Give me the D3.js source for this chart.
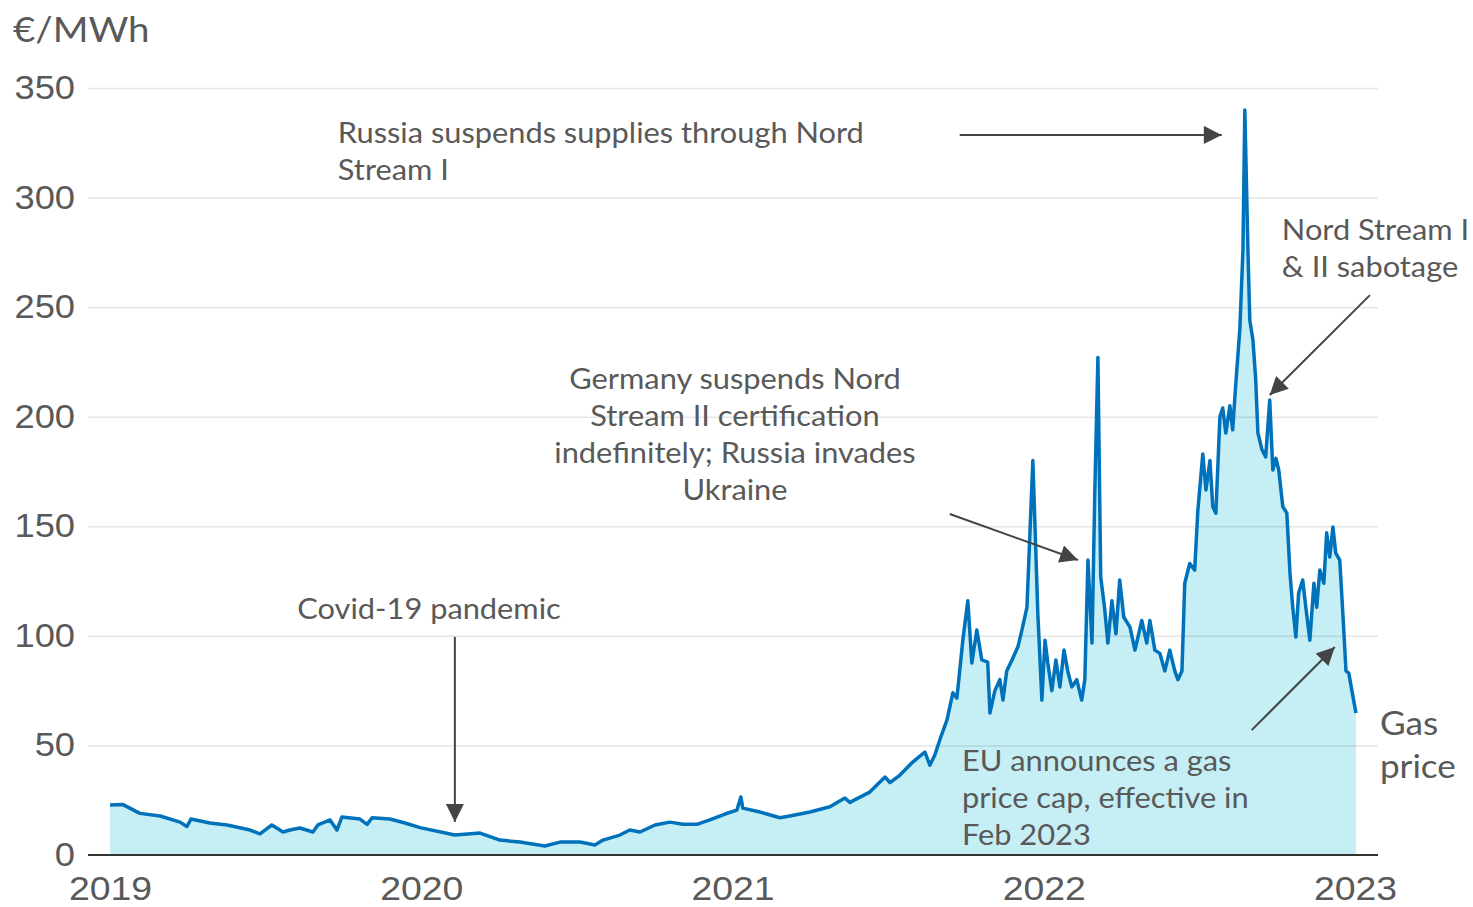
<!DOCTYPE html>
<html>
<head>
<meta charset="utf-8">
<script src="https://cdn.jsdelivr.net/npm/d3@7"></script>
<style>
    body { margin: 0; background: #fff; }
    svg { display: block; font-family: Lato, "Open Sans", sans-serif; }
    .tick text { fill: #595959; }
    .note { fill: #595959; font-size: 28px; }
</style>
</head>
<body>
<script>
// gas price (decimal year, €/MWh)
const years = [
    2019.000, 2019.042, 2019.096, 2019.161, 2019.225, 2019.247, 2019.260, 2019.321, 2019.376, 2019.450,
    2019.482, 2019.520, 2019.556, 2019.578, 2019.610, 2019.652, 2019.668, 2019.707, 2019.729, 2019.745,
    2019.803, 2019.826, 2019.842, 2019.899, 2019.948, 2019.996, 2020.108, 2020.189, 2020.253, 2020.317,
    2020.397, 2020.446, 2020.510, 2020.558, 2020.584, 2020.638, 2020.670, 2020.703, 2020.751, 2020.799,
    2020.841, 2020.886, 2020.927, 2020.976, 2021.014, 2021.027, 2021.033, 2021.088, 2021.152, 2021.184,
    2021.249, 2021.313, 2021.361, 2021.377, 2021.441, 2021.490, 2021.506, 2021.538, 2021.576, 2021.618,
    2021.634, 2021.650, 2021.666, 2021.689, 2021.708, 2021.721, 2021.740, 2021.756, 2021.769, 2021.785,
    2021.801, 2021.820, 2021.827, 2021.843, 2021.859, 2021.869, 2021.881, 2021.898, 2021.917, 2021.930,
    2021.946, 2021.965, 2021.981, 2021.994, 2022.004, 2022.013, 2022.026, 2022.039, 2022.052, 2022.065,
    2022.077, 2022.090, 2022.106, 2022.122, 2022.132, 2022.142, 2022.155, 2022.164, 2022.174, 2022.183,
    2022.196, 2022.206, 2022.219, 2022.232, 2022.244, 2022.257, 2022.277, 2022.293, 2022.315, 2022.331,
    2022.341, 2022.357, 2022.373, 2022.389, 2022.405, 2022.421, 2022.431, 2022.444, 2022.453, 2022.469,
    2022.485, 2022.495, 2022.511, 2022.521, 2022.534, 2022.543, 2022.553, 2022.566, 2022.575, 2022.585,
    2022.598, 2022.607, 2022.617, 2022.630, 2022.640, 2022.646, 2022.656, 2022.662, 2022.672, 2022.681,
    2022.688, 2022.701, 2022.713, 2022.726, 2022.736, 2022.746, 2022.755, 2022.768, 2022.781, 2022.791,
    2022.800, 2022.810, 2022.819, 2022.832, 2022.842, 2022.855, 2022.868, 2022.877, 2022.887, 2022.900,
    2022.909, 2022.919, 2022.929, 2022.938, 2022.951, 2022.961, 2022.971, 2022.980, 2022.990, 2023.003
];
const prices = [
    22.8, 23.0, 19.0, 17.8, 15.0, 13.0, 16.4, 14.6, 13.7, 11.4,
    9.6, 13.7, 10.5, 11.4, 12.3, 10.5, 13.7, 16.0, 11.4, 17.3,
    16.4, 14.0, 17.0, 16.4, 14.6, 12.5, 9.1, 10.0, 6.8, 5.9,
    4.1, 5.9, 5.9, 4.6, 6.8, 9.1, 11.4, 10.5, 13.7, 15.0,
    14.0, 14.0, 16.0, 18.7, 20.5, 26.5, 21.4, 19.6, 17.0, 17.8,
    19.6, 22.0, 26.0, 24.0, 28.7, 35.6, 33.0, 36.5, 42.0, 47.0,
    41.0, 45.6, 52.5, 61.6, 74.0, 71.6, 98.0, 116.0, 87.6, 102.7,
    89.0, 88.0, 64.8, 75.0, 80.0, 70.7, 84.0, 89.0, 95.0, 102.7,
    113.0, 180.0, 110.0, 70.7, 98.0, 87.6, 75.0, 89.0, 76.7, 93.5,
    84.0, 76.7, 80.0, 70.7, 80.0, 134.6, 96.7, 165.0, 227.0, 127.0,
    112.0, 96.7, 116.0, 101.0, 125.5, 108.6, 104.0, 93.5, 107.0, 96.7,
    107.0, 93.5, 92.0, 84.0, 93.5, 84.0, 80.0, 84.0, 124.0, 133.0,
    130.0, 157.0, 183.0, 166.6, 180.0, 159.0, 156.0, 200.0, 204.0, 192.6,
    205.0, 194.0, 215.0, 240.0, 276.0, 340.0, 276.0, 244.0, 235.0, 217.0,
    192.6, 185.0, 181.6, 207.6, 175.7, 181.0, 175.7, 159.0, 156.0, 128.7,
    113.0, 99.5, 119.6, 125.5, 113.0, 98.0, 124.0, 113.0, 130.0, 124.0,
    147.0, 136.0, 149.7, 137.8, 134.6, 110.0, 84.0, 83.0, 75.0, 64.8
];
const yTicks = [0, 50, 100, 150, 200, 250, 300, 350];
const xTicks = [2019, 2020, 2021, 2022, 2023];

// annotations, placed in data units
const notes = [
    { lines: ["Russia suspends supplies through Nord", "Stream I"], x: 2019.732, y: 329.5, anchor: "start" },
    { lines: ["Nord Stream I", "& II sabotage"], x: 2022.765, y: 285.2, anchor: "start" },
    { lines: ["Germany suspends Nord", "Stream II certification", "indefinitely; Russia invades", "Ukraine"], x: 2021.008, y: 217.2, anchor: "middle" },
    { lines: ["Covid-19 pandemic"], x: 2020.025, y: 112.3, anchor: "middle" },
    { lines: ["EU announces a gas", "price cap, effective in", "Feb 2023"], x: 2021.737, y: 42.9, anchor: "start" }
];
const arrows = [
    { from: [2021.730, 328.6], to: [2022.572, 328.6] },
    { from: [2023.048, 255.5], to: [2022.726, 209.9] },
    { from: [2021.698, 155.6], to: [2022.110, 134.6] },
    { from: [2020.108, 99.5], to: [2020.108, 15.1] },
    { from: [2022.668, 57.0], to: [2022.935, 94.9] }
];

const width = 1473;
const height = 907;
const left = 88;
const right = 1378;
const stretch = 1.1; // lettering in the original is a little wide

const data = years.map((yr, i) => ({ year: yr, price: prices[i] }));

const x = d3.scaleLinear().domain([2019, 2023]).range([110, 1355]);
const y = d3.scaleLinear().domain([0, 350]).range([855, 88]);

const svg = d3.select("body")
    .append("svg")
    .attr("width", width)
    .attr("height", height);

svg.append("defs")
    .append("marker")
    .attr("id", "head")
    .attr("viewBox", "0 0 10 10")
    .attr("refX", 10)
    .attr("refY", 5)
    .attr("markerUnits", "userSpaceOnUse")
    .attr("markerWidth", 24)
    .attr("markerHeight", 18)
    .attr("orient", "auto")
    .append("path")
    .attr("d", "M0,0 L10,5 L0,10 Z")
    .attr("fill", "#444");

// area under the line
svg.append("path")
    .datum(data)
    .attr("fill", "#c6eff5")
    .attr("d", d3.area()
        .x(d => x(d.year))
        .y0(y(0))
        .y1(d => y(d.price)));

// y grid + labels
const yAxis = svg.append("g")
    .attr("transform", `translate(${left},0)`)
    .call(d3.axisLeft(y).tickValues(yTicks).tickSize(-(right - left)).tickPadding(13));
yAxis.select(".domain").remove();
yAxis.selectAll(".tick line")
    .attr("stroke", "rgba(0,0,0,0.1)")
    .attr("stroke-width", 1.5)
    .filter(d => d === 0).remove();
yAxis.selectAll(".tick text")
    .attr("font-family", null)
    .attr("font-size", 33)
    .attr("x", -13 / stretch)
    .attr("transform", `scale(${stretch},1)`);

// x axis
const xAxis = svg.append("g")
    .attr("transform", `translate(0,${y(0)})`)
    .call(d3.axisBottom(x).tickValues(xTicks).tickFormat(d3.format("d")).tickSize(0).tickPadding(21));
xAxis.select(".domain").remove();
xAxis.selectAll(".tick text")
    .attr("font-family", null)
    .attr("font-size", 34)
    .attr("transform", `scale(${stretch},1)`);

svg.append("line")
    .attr("x1", left)
    .attr("x2", right)
    .attr("y1", y(0))
    .attr("y2", y(0))
    .attr("stroke", "#333")
    .attr("stroke-width", 2);

// price line
svg.append("path")
    .datum(data)
    .attr("fill", "none")
    .attr("stroke", "#0072bb")
    .attr("stroke-width", 3.5)
    .attr("stroke-linejoin", "round")
    .attr("d", d3.line()
        .x(d => x(d.year))
        .y(d => y(d.price)));

// unit label
svg.append("text")
    .attr("transform", `translate(13,42) scale(${stretch},1)`)
    .attr("fill", "#595959")
    .attr("font-size", 35)
    .text("€/MWh");

// annotations
notes.forEach(n => {
    const t = svg.append("text")
        .attr("class", "note")
        .attr("text-anchor", n.anchor)
        .attr("transform", `translate(${x(n.x)},${y(n.y)}) scale(${stretch},1)`);
    n.lines.forEach((l, i) => {
        t.append("tspan")
            .attr("x", 0)
            .attr("dy", i === 0 ? "0.35em" : 37)
            .text(l);
    });
});

svg.selectAll(".arrow")
    .data(arrows)
    .enter()
    .append("line")
    .attr("class", "arrow")
    .attr("x1", d => x(d.from[0]))
    .attr("y1", d => y(d.from[1]))
    .attr("x2", d => x(d.to[0]))
    .attr("y2", d => y(d.to[1]))
    .attr("stroke", "#444")
    .attr("stroke-width", 2)
    .attr("marker-end", "url(#head)");

// series label
const gas = svg.append("text")
    .attr("fill", "#595959")
    .attr("font-size", 32)
    .attr("transform", `translate(${x(2023.08)},${y(59.8)}) scale(${stretch},1)`);
["Gas", "price"].forEach((l, i) => {
    gas.append("tspan")
        .attr("x", 0)
        .attr("dy", i === 0 ? "0.35em" : 43)
        .text(l);
});
</script>
</body>
</html>
